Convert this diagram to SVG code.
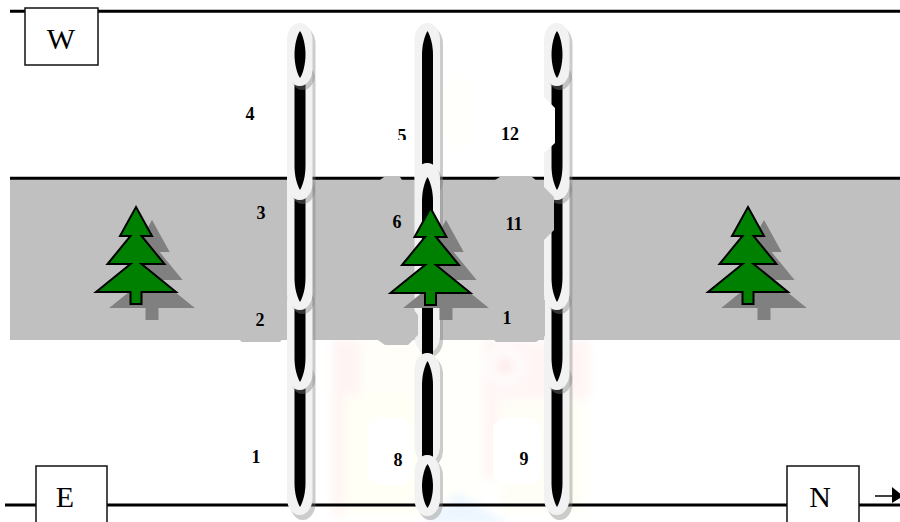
<svg xmlns="http://www.w3.org/2000/svg" width="900" height="522" viewBox="0 0 900 522">
<style>
.rule{stroke:#000;stroke-width:3;fill:none}
.ring{fill:#f2f2f2}
.sh{fill:#808080;opacity:.4}
.core{fill:#000}
.patch{fill:#c0c0c0}
.wp{fill:#fff}
.n{font-family:"Liberation Serif","Times New Roman",serif;font-weight:700;font-size:18px;fill:#000;text-anchor:middle}
.box{fill:#fff;stroke:#111;stroke-width:1.500}
.t{font-family:"Liberation Serif","Times New Roman",serif;font-size:30px;fill:#000;text-anchor:middle}
.tree{fill:#008000;stroke:#000;stroke-width:2}
.ts{fill:#808080;stroke:#808080;stroke-width:2}
</style>
<defs>
<path id="treeP" d="M0 0L16 29H5.500L28.500 57H5.500L40 85H5.500V97H-5.500V85H-40L-5.500 57H-28.500L-5.500 29H-16Z"/>
<filter id="soft" x="-10%" y="-10%" width="120%" height="120%"><feGaussianBlur stdDeviation="4"/></filter>
</defs>
<rect width="900" height="522" fill="#fff"/>
<g id="watermark" filter="url(#soft)">
<rect x="420" y="340" width="63" height="175" fill="#fffffb"/>
<rect x="332" y="340" width="28" height="55" fill="#fff4f4"/>
<rect x="360" y="340" width="60" height="55" fill="#fffef8"/>
<rect x="332" y="395" width="14" height="120" fill="#fff6f3"/>
<rect x="346" y="395" width="74" height="120" fill="#fffff5"/>
<rect x="483" y="340" width="107" height="58" fill="#fff5f5"/>
<rect x="483" y="398" width="17" height="80" fill="#fff6f4"/>
<rect x="500" y="398" width="85" height="115" fill="#fffef6"/>
<circle cx="505" cy="366" r="21" fill="#fffbfb"/>
<circle cx="505" cy="366" r="9" fill="#ffeeee"/>
<polygon points="458,493 510,525 420,525" fill="#edf6ff"/>
<ellipse cx="458" cy="110" rx="16" ry="38" fill="#fffffb"/>
</g>
<g id="band"><rect x="10" y="178" width="890" height="162" fill="#c0c0c0"/></g>
<g id="connectors">
<path class="rule" d="M10 11.300H900M10 178.300H900M5 505H900"/>
<path d="M875 496H893" stroke="#000" stroke-width="1.500" fill="none"/>
<polygon points="892,487 903,496 892,503" fill="#000"/>
</g>
<g id="rail-1">
<rect class="sh" x="290" y="364" width="25.500" height="156" rx="12.500" ry="17"/><rect class="ring" x="287" y="360" width="25.500" height="155" rx="12.500" ry="17"/><path class="core" d="M294.500 370H305.500V483C305.500 493 303 502 300 507C297 502 294.500 493 294.500 483Z"/>
<rect class="sh" x="290" y="290" width="25.500" height="104" rx="12.500" ry="17"/><rect class="ring" x="287" y="285" width="25.500" height="105" rx="12.500" ry="17"/><path class="core" d="M294.500 295H305.500V358C305.500 368 303 377 300 382C297 377 294.500 368 294.500 358Z"/>
<rect class="sh" x="290" y="175" width="25.500" height="139" rx="12.500" ry="17"/><rect class="ring" x="287" y="170" width="25.500" height="140" rx="12.500" ry="17"/><path class="core" d="M294.500 180H305.500V278C305.500 288 303 297 300 302C297 297 294.500 288 294.500 278Z"/>
<rect class="sh" x="290" y="64" width="25.500" height="140" rx="12.500" ry="17"/><rect class="ring" x="287" y="60" width="25.500" height="140" rx="12.500" ry="17"/><path class="core" d="M294.500 70H305.500V166C305.500 176 303 185 300 190C297 185 294.500 176 294.500 166Z"/>
<rect class="sh" x="290" y="27" width="25.500" height="63" rx="12.500" ry="17"/><rect class="ring" x="287" y="23" width="25.500" height="63" rx="12.500" ry="17"/><path class="core" d="M300 31C303 35 305.500 45 305.500 54.500C305.500 64 303 74 300 78C297 74 294.500 64 294.500 54.500C294.500 45 297 35 300 31Z"/>
</g>
<g id="rail-2">
<rect class="sh" x="417.500" y="27" width="25.500" height="170" rx="12.500" ry="17"/><rect class="ring" x="414.500" y="23" width="25.500" height="170" rx="12.500" ry="17"/><path class="core" d="M427.500 31C430.500 36 433 45 433 55V180H422V55C422 45 424.500 36 427.500 31Z"/>
<rect class="sh" x="417.500" y="167" width="25.500" height="190" rx="12.500" ry="17"/><rect class="ring" x="414.500" y="163" width="25.500" height="190" rx="12.500" ry="17"/><path class="core" d="M427.500 177C430.500 182 433 191 433 201V358H422V201C422 191 424.500 182 427.500 177Z"/>
<rect class="sh" x="417.500" y="357" width="25.500" height="110" rx="12.500" ry="17"/><rect class="ring" x="414.500" y="353" width="25.500" height="110" rx="12.500" ry="17"/><path class="core" d="M427.500 361C430.500 366 433 375 433 385V470H422V385C422 375 424.500 366 427.500 361Z"/>
<rect class="sh" x="417.500" y="459" width="25.500" height="61" rx="12.500" ry="17"/><rect class="ring" x="414.500" y="455" width="25.500" height="61" rx="12.500" ry="17"/><path class="core" d="M427.500 464C430.500 468 433 477 433 486C433 495 430.500 504 427.500 508C424.500 504 422 495 422 486C422 477 424.500 468 427.500 464Z"/>
</g>
<g id="rail-3">
<rect class="sh" x="547" y="364" width="25.500" height="156" rx="12.500" ry="17"/><rect class="ring" x="544" y="360" width="25.500" height="155" rx="12.500" ry="17"/><path class="core" d="M551.500 370H562.500V483C562.500 493 560 502 557 507C554 502 551.500 493 551.500 483Z"/>
<rect class="sh" x="547" y="290" width="25.500" height="104" rx="12.500" ry="17"/><rect class="ring" x="544" y="285" width="25.500" height="105" rx="12.500" ry="17"/><path class="core" d="M551.500 295H562.500V358C562.500 368 560 377 557 382C554 377 551.500 368 551.500 358Z"/>
<rect class="sh" x="547" y="175" width="25.500" height="139" rx="12.500" ry="17"/><rect class="ring" x="544" y="170" width="25.500" height="140" rx="12.500" ry="17"/><path class="core" d="M551.500 180H562.500V278C562.500 288 560 297 557 302C554 297 551.500 288 551.500 278Z"/>
<rect class="sh" x="547" y="64" width="25.500" height="140" rx="12.500" ry="17"/><rect class="ring" x="544" y="60" width="25.500" height="140" rx="12.500" ry="17"/><path class="core" d="M551.500 70H562.500V166C562.500 176 560 185 557 190C554 185 551.500 176 551.500 166Z"/>
<rect class="sh" x="547" y="27" width="25.500" height="63" rx="12.500" ry="17"/><rect class="ring" x="544" y="23" width="25.500" height="63" rx="12.500" ry="17"/><path class="core" d="M557 31C560 35 562.500 45 562.500 54.500C562.500 64 560 74 557 78C554 74 551.500 64 551.500 54.500C551.500 45 554 35 557 31Z"/>
</g>
<g id="patches">
<polygon class="patch" points="230,295 286,295 286,335 280,342 242,342 230,332"/>
<polygon class="patch" points="380,180 384,177 400,177 402,180 402,200 380,200"/>
<polygon class="patch" points="375,312 380,308 412,308 418,315 418,335 408,345 385,345 375,338"/>
<polygon class="patch" points="495,180 500,177 532,177 543,186 554,197 554,230 544,240 495,240"/>
<polygon class="patch" points="490,300 545,300 545,336 536,342 496,342 490,336"/>
<polygon class="wp" points="490,97 544,97 555,108 555,143 544,153 490,153"/>
<polygon class="wp" points="376,418 405,418 413,426 413,477 405,485 376,485 368,477 368,426"/>
<polygon class="wp" points="501,418 533,418 541,426 541,476 533,484 501,484 493,476 493,426"/>
</g>
<g id="labels">
<text class="n" x="250" y="120">4</text>
<text class="n" x="402" y="142">5</text>
<rect class="wp" x="392" y="140" width="20" height="8"/>
<text class="n" x="510" y="140">12</text>
<text class="n" x="261" y="219">3</text>
<text class="n" x="397" y="228">6</text>
<text class="n" x="514" y="230">11</text>
<text class="n" x="260" y="326">2</text>
<text class="n" x="507" y="324">1</text>
<text class="n" x="256" y="463">1</text>
<text class="n" x="398" y="466">8</text>
<text class="n" x="524" y="465">9</text>
</g>
<g id="tree-1"><use href="#treeP" class="ts" x="152" y="222"/><use href="#treeP" class="tree" x="136" y="207"/></g>
<g id="tree-2"><use href="#treeP" class="ts" x="446" y="222"/><use href="#treeP" class="tree" x="430.500" y="208"/></g>
<g id="tree-3"><use href="#treeP" class="ts" x="764" y="222"/><use href="#treeP" class="tree" x="748" y="207"/></g>
<g id="node-W"><rect class="box" x="25" y="8" width="73" height="57"/><text class="t" x="61" y="49">W</text></g>
<g id="node-E"><rect class="box" x="36" y="466" width="71" height="60"/><text class="t" x="65" y="507">E</text></g>
<g id="node-N"><rect class="box" x="787" y="466" width="72" height="60"/><text class="t" x="820" y="507">N</text></g>
</svg>
